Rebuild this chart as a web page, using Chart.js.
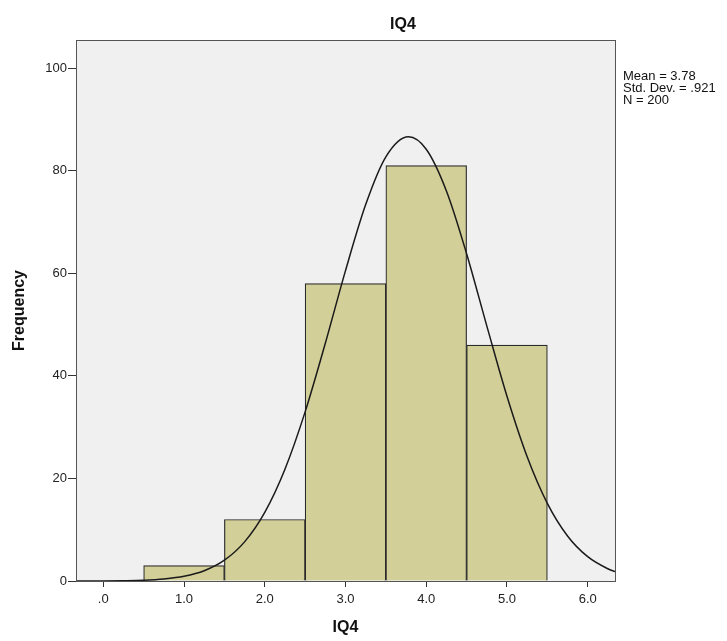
<!DOCTYPE html>
<html><head><meta charset="utf-8">
<script src="https://cdn.jsdelivr.net/npm/chart.js@4"></script>
<style>html,body{margin:0;padding:0;background:#fff;}#wrap{width:727px;height:641px;}</style>
</head><body><div id="wrap"><canvas id="c" width="727" height="641"></canvas></div>
<script>
const binCenters = [1, 2, 3, 4, 5];
const frequencies = [3, 12, 58, 81, 46];
const curveX = [-0.34, 0, 0.25, 0.5, 0.75, 1.0, 1.25, 1.5, 1.75, 2.0, 2.25, 2.5, 2.75, 3.0, 3.25, 3.5, 3.78, 4.0, 4.25, 4.5, 4.75, 5.0, 5.25, 5.5, 5.75, 6.0, 6.25, 6.34];
const curveY = [0.004, 0.02, 0.06, 0.15, 0.39, 0.91, 1.99, 4.05, 7.63, 13.38, 21.8, 32.98, 46.35, 60.53, 73.41, 82.72, 86.63, 84.2, 76.06, 63.82, 49.75, 36.03, 24.24, 15.15, 8.79, 4.74, 2.38, 1.82];
const xTicks = [0, 1, 2, 3, 4, 5, 6];
const yTicks = [0, 20, 40, 60, 80, 100];
const titleText = 'IQ4';
const statsLines = ['Mean = 3.78', 'Std. Dev. = .921', 'N = 200'];

const FONT = '"Liberation Sans", Arial, sans-serif';

const decor = {
  id: 'decor',
  beforeDraw(chart) {
    const {ctx, chartArea: a} = chart;
    ctx.save();
    ctx.fillStyle = '#f0f0f0';
    ctx.fillRect(a.left, a.top, a.right - a.left, a.bottom - a.top);
    ctx.restore();
  },
  afterDraw(chart) {
    const {ctx, chartArea: a} = chart;
    ctx.save();
    ctx.strokeStyle = '#555';
    ctx.lineWidth = 1;
    ctx.strokeRect(Math.round(a.left) + 0.5, Math.round(a.top) + 0.5, Math.round(a.right - a.left), Math.round(a.bottom - a.top));
    ctx.fillStyle = '#111';
    ctx.font = 'bold 16px ' + FONT;
    ctx.textAlign = 'center';
    ctx.textBaseline = 'middle';
    ctx.fillText(titleText, 403, 25);
    ctx.font = '13px ' + FONT;
    ctx.textAlign = 'left';
    statsLines.forEach((t, i) => ctx.fillText(t, 623, 76 + i * 12));
    ctx.restore();
  }
};

new Chart(document.getElementById('c'), {
  type: 'bar',
  data: {
    datasets: [
      {
        type: 'line',
        data: curveX.map((x, i) => ({x, y: curveY[i]})),
        borderColor: '#1a1a1a',
        borderWidth: 1.5,
        pointRadius: 0,
        fill: false,
        cubicInterpolationMode: 'monotone',
        order: 0
      },
      {
        type: 'bar',
        data: binCenters.map((x, i) => ({x, y: frequencies[i]})),
        backgroundColor: '#d3cf99',
        borderColor: '#2a2a2a',
        borderWidth: 1.2,
        barPercentage: 1,
        categoryPercentage: 1,
        order: 1
      }
    ]
  },
  options: {
    responsive: false,
    animation: false,
    layout: {padding: {top: 40, right: 112, left: 0, bottom: 0}},
    plugins: {legend: {display: false}, tooltip: {enabled: false}, title: {display: false}},
    scales: {
      x: {
        type: 'linear',
        min: -0.338,
        max: 6.338,
        offset: false,
        afterBuildTicks: s => { s.ticks = xTicks.map(v => ({value: v})); },
        afterFit: s => { s.height = 60; },
        grid: {display: true, offset: false, drawOnChartArea: false, tickLength: 6, tickColor: '#333', color: '#333'},
        border: {display: true, color: '#555'},
        ticks: {
          color: '#222', font: {family: FONT, size: 13}, padding: 5, maxRotation: 0,
          callback: v => v === 0 ? '.0' : v.toFixed(1)
        },
        title: {display: true, text: 'IQ4', color: '#111', font: {family: FONT, size: 16, weight: 'bold'}, padding: {top: 8}}
      },
      y: {
        min: 0,
        max: 105.5,
        afterBuildTicks: s => { s.ticks = yTicks.map(v => ({value: v})); },
        afterFit: s => { s.width = 76; },
        grid: {display: true, drawOnChartArea: false, tickLength: 8, tickColor: '#333', color: '#333'},
        border: {display: true, color: '#555'},
        ticks: {color: '#222', font: {family: FONT, size: 13}, padding: 1},
        title: {display: true, text: 'Frequency', color: '#111', font: {family: FONT, size: 16, weight: 'bold'}, padding: {top: 10, bottom: 10}}
      }
    }
  },
  plugins: [decor]
});
</script>
</body></html>
